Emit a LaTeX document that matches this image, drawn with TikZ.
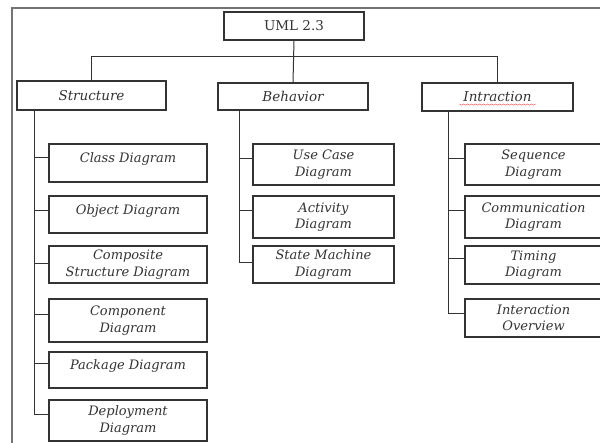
\documentclass[tikz,border=0pt]{standalone}
\usepackage{fontspec}
\setmainfont{DejaVu Serif}
\begin{document}
\begin{tikzpicture}[x=1pt,y=-1pt,
  every node/.style={inner sep=0pt,outer sep=0pt},
  boxst/.style={draw=black!80,line width=1.1pt,rectangle,align=center,text=black!80,
    font=\fontsize{13}{16.5}\selectfont\itshape},
  toplab/.style={boxst,font=\fontsize{13.5}{16}\selectfont\itshape},
  link/.style={draw=black!80,line width=1pt},
  frame/.style={draw=black!55,line width=1.3pt}]
\useasboundingbox[fill=white] (0,0) rectangle (600,443);
% frame
\draw[frame] (12,443) -- (12,8) -- (602,8);
% top
\node[boxst,font=\fontsize{13.5}{16}\selectfont\upshape,minimum width=140pt,minimum height=28pt] (uml) at (294,26) {UML 2.3};
\node[toplab,minimum width=149pt,minimum height=29pt] (structure) at (91.5,95.5) {Structure};
\node[toplab,minimum width=150pt,minimum height=27pt] (behavior) at (293,96.5) {Behavior};
\node[toplab,minimum width=151pt,minimum height=28pt] (intraction) at (497.5,97) {Intraction};
% red squiggle under Intraction
\draw[red!70,line width=0.5pt] ([xshift=-38pt,yshift=-7pt]intraction.center)
  \foreach \i in {1,...,38} {-- ++(2,{mod(\i,2)==1 ? 1.2 : -1.2})};
\coordinate (bus) at (0,57);
\draw[link] (uml.south) -- (behavior.north);
\draw[link] (structure.north) -- (structure.north |- bus) -- (intraction.north |- bus) -- (intraction.north);
% structure children
\node[boxst,minimum width=158pt,minimum height=38pt,text depth=10pt] (class) at (128,163) {Class Diagram};
\node[boxst,minimum width=158pt,minimum height=37pt,text depth=9pt] (object) at (128,214.5) {Object Diagram};
\node[boxst,minimum width=158pt,minimum height=37pt] (composite) at (128,264.5) {Composite\\Structure Diagram};
\node[boxst,minimum width=158pt,minimum height=43pt] (component) at (128,320.5) {Component\\Diagram};
\node[boxst,minimum width=158pt,minimum height=36pt,text depth=10pt] (package) at (128,370) {Package Diagram};
\node[boxst,minimum width=158pt,minimum height=41pt] (deployment) at (128,420.5) {Deployment\\Diagram};
% behavior children
\node[boxst,minimum width=141pt,minimum height=41pt] (usecase) at (323.5,164.5) {Use Case\\Diagram};
\node[boxst,minimum width=141pt,minimum height=42pt] (activity) at (323.5,217) {Activity\\Diagram};
\node[boxst,minimum width=141pt,minimum height=37pt] (statem) at (323.5,264.5) {State Machine\\Diagram};
% interaction children
\node[boxst,minimum width=137pt,minimum height=41pt] (sequence) at (533.5,164.5) {Sequence\\Diagram};
\node[boxst,minimum width=137pt,minimum height=42pt] (communication) at (533.5,217) {Communication\\Diagram};
\node[boxst,minimum width=137pt,minimum height=38pt] (timing) at (533.5,265) {Timing\\Diagram};
\node[boxst,minimum width=137pt,minimum height=38pt] (overview) at (533.5,318) {Interaction\\Overview};
% trunks
\coordinate (strunk) at ([xshift=17pt]structure.south west);
\coordinate (btrunk) at ([xshift=21pt]behavior.south west);
\coordinate (itrunk) at ([xshift=26pt]intraction.south west);
\draw[link] (strunk) |- ([yshift=6pt]deployment.west);
\draw[link] ([yshift=5pt]class.west) -- ([yshift=5pt]class.west -| strunk);
\draw[link] ([yshift=4pt]object.west) -- ([yshift=4pt]object.west -| strunk);
\draw[link] ([yshift=1pt]composite.west) -- ([yshift=1pt]composite.west -| strunk);
\draw[link] ([yshift=6pt]component.west) -- ([yshift=6pt]component.west -| strunk);
\draw[link] ([yshift=6pt]package.west) -- ([yshift=6pt]package.west -| strunk);
\draw[link] (btrunk) |- ([yshift=2pt]statem.west);
\foreach \n in {usecase,activity}
  \draw[link] ([yshift=6pt]\n.west) -- ([yshift=6pt]\n.west -| btrunk);
\draw[link] (itrunk) |- ([yshift=4pt]overview.west);
\foreach \n in {sequence,communication,timing}
  \draw[link] ([yshift=6pt]\n.west) -- ([yshift=6pt]\n.west -| itrunk);
\end{tikzpicture}
\end{document}
